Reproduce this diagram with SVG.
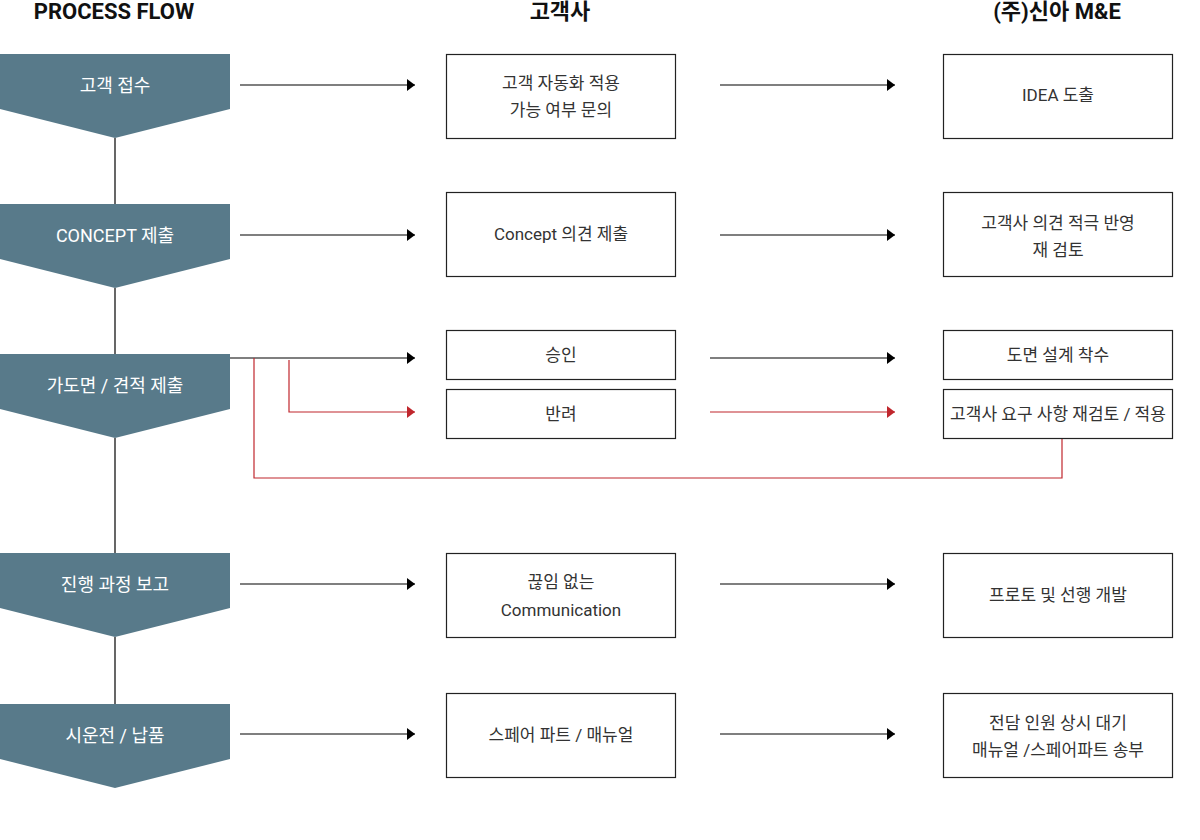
<svg xmlns="http://www.w3.org/2000/svg" width="1200" height="840" viewBox="0 0 1200 840">
<defs>
<marker id="ab" viewBox="0 0 8 12" refX="8" refY="6" markerWidth="8" markerHeight="12" markerUnits="userSpaceOnUse" orient="auto"><path d="M0,0 L8,6 L0,12 Z" fill="#000"/></marker>
<marker id="ar" viewBox="0 0 8 12" refX="8" refY="6" markerWidth="8" markerHeight="12" markerUnits="userSpaceOnUse" orient="auto"><path d="M0,0 L8,6 L0,12 Z" fill="#c0272d"/></marker>
</defs>
<style>
text{font-family:Roboto,"Noto Sans CJK KR",sans-serif;}
.h{font-size:22px;font-weight:bold;fill:#111;text-anchor:middle;}
.step{fill:#587a8a;}
.st{font-size:18px;fill:#fff;text-anchor:middle;}
.box{fill:#fff;stroke:#222;stroke-width:1.2;}
.bt{font-size:17px;fill:#333;text-anchor:middle;}
.c{fill:none;stroke:#000;stroke-width:1.2;}
.r{fill:none;stroke:#c0272d;stroke-width:1.2;}
</style>
<text class="h" x="114" y="19">PROCESS FLOW</text>
<text class="h" x="560" y="19">고객사</text>
<text class="h" x="1057" y="19">(주)신아 M&amp;E</text>
<g id="connectors">
<line class="c" x1="115" y1="138" x2="115" y2="204"/>
<line class="c" x1="115" y1="288" x2="115" y2="354"/>
<line class="c" x1="115" y1="438" x2="115" y2="553"/>
<line class="c" x1="115" y1="637" x2="115" y2="704"/>
<line class="c" x1="240" y1="85" x2="415" y2="85" marker-end="url(#ab)"/>
<line class="c" x1="720" y1="85" x2="895" y2="85" marker-end="url(#ab)"/>
<line class="c" x1="240" y1="235" x2="415" y2="235" marker-end="url(#ab)"/>
<line class="c" x1="720" y1="235" x2="895" y2="235" marker-end="url(#ab)"/>
<line class="c" x1="230" y1="358" x2="415" y2="358" marker-end="url(#ab)"/>
<line class="c" x1="710" y1="358" x2="895" y2="358" marker-end="url(#ab)"/>
<polyline class="r" points="289,360 289,412 415,412" marker-end="url(#ar)"/>
<line class="r" x1="710" y1="412" x2="895" y2="412" marker-end="url(#ar)"/>
<polyline class="r" points="254,358 254,478 1062,478 1062,438"/>
<line class="c" x1="240" y1="584" x2="415" y2="584" marker-end="url(#ab)"/>
<line class="c" x1="720" y1="584" x2="895" y2="584" marker-end="url(#ab)"/>
<line class="c" x1="240" y1="734" x2="415" y2="734" marker-end="url(#ab)"/>
<line class="c" x1="720" y1="734" x2="895" y2="734" marker-end="url(#ab)"/>
</g>
<g id="s1"><path class="step" d="M0,54 H230 V109 L115,138 L0,109 Z"/><text class="st" x="115" y="92">고객 접수</text></g>
<g id="s2"><path class="step" d="M0,204 H230 V259 L115,288 L0,259 Z"/><text class="st" x="115" y="242">CONCEPT 제출</text></g>
<g id="s3"><path class="step" d="M0,354 H230 V409 L115,438 L0,409 Z"/><text class="st" x="115" y="392">가도면 / 견적 제출</text></g>
<g id="s4"><path class="step" d="M0,553 H230 V608 L115,637 L0,608 Z"/><text class="st" x="115" y="591">진행 과정 보고</text></g>
<g id="s5"><path class="step" d="M0,704 H230 V759 L115,788 L0,759 Z"/><text class="st" x="115" y="742">시운전 / 납품</text></g>
<g id="c1"><rect class="box" x="446.5" y="54.5" width="229" height="84"/><text class="bt" x="561" y="89">고객 자동화 적용</text><text class="bt" x="561" y="116">가능 여부 문의</text></g>
<g id="c2"><rect class="box" x="446.5" y="192.5" width="229" height="84"/><text class="bt" x="561" y="240">Concept 의견 제출</text></g>
<g id="c3"><rect class="box" x="446.5" y="330.5" width="229" height="49"/><text class="bt" x="561" y="361">승인</text></g>
<g id="c4"><rect class="box" x="446.5" y="389.5" width="229" height="49"/><text class="bt" x="561" y="420">반려</text></g>
<g id="c5"><rect class="box" x="446.5" y="553.5" width="229" height="84"/><text class="bt" x="561" y="588">끊임 없는</text><text class="bt" x="561" y="616">Communication</text></g>
<g id="c6"><rect class="box" x="446.5" y="693.5" width="229" height="84"/><text class="bt" x="561" y="741">스페어 파트 / 매뉴얼</text></g>
<g id="m1"><rect class="box" x="943.5" y="54.5" width="229" height="84"/><text class="bt" x="1058" y="101">IDEA 도출</text></g>
<g id="m2"><rect class="box" x="943.5" y="192.5" width="229" height="84"/><text class="bt" x="1058" y="229">고객사 의견 적극 반영</text><text class="bt" x="1058" y="256">재 검토</text></g>
<g id="m3"><rect class="box" x="943.5" y="330.5" width="229" height="49"/><text class="bt" x="1058" y="361">도면 설계 착수</text></g>
<g id="m4"><rect class="box" x="943.5" y="389.5" width="229" height="49"/><text class="bt" x="1058" y="420">고객사 요구 사항 재검토 / 적용</text></g>
<g id="m5"><rect class="box" x="943.5" y="553.5" width="229" height="84"/><text class="bt" x="1058" y="601">프로토 및 선행 개발</text></g>
<g id="m6"><rect class="box" x="943.5" y="693.5" width="229" height="84"/><text class="bt" x="1058" y="729">전담 인원 상시 대기</text><text class="bt" x="1058" y="756">매뉴얼 /스페어파트 송부</text></g>
</svg>
